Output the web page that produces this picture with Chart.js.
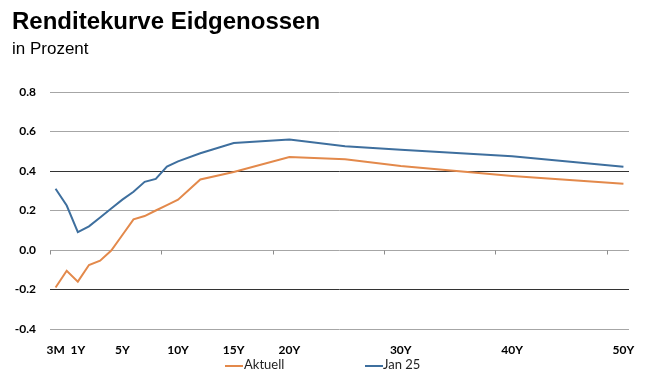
<!DOCTYPE html>
<html>
<head>
<meta charset="utf-8">
<script src="https://cdn.jsdelivr.net/npm/chart.js@4/dist/chart.umd.min.js"></script>
<style>
    html, body { margin: 0; padding: 0; background: #fff; }
    #wrap { position: relative; width: 646px; height: 378px; }
    #title { position: absolute; left: 12px; top: 9px; font: bold 24px "Liberation Sans", Arial, sans-serif; line-height: 1; color: #000; white-space: nowrap; }
    #subtitle { position: absolute; left: 12px; top: 40px; font: 17px "Liberation Sans", Arial, sans-serif; line-height: 1; color: #000; white-space: nowrap; }
    .legLine { position: absolute; height: 2px; width: 18px; top: 365px; }
    .legText { position: absolute; top: 358px; font: 13px Lato, sans-serif; line-height: 1; color: #222; white-space: nowrap; }
</style>
</head>
<body>
<div id="wrap">
    <canvas id="curveChart" width="646" height="378"></canvas>
    <div id="title">Renditekurve Eidgenossen</div>
    <div id="subtitle">in Prozent</div>
    <div class="legLine" style="left:225px;background:#E3894B"></div>
    <div class="legText" style="left:244px">Aktuell</div>
    <div class="legLine" style="left:365px;background:#3E6F9E"></div>
    <div class="legText" style="left:383px">Jan 25</div>
</div>
<script>
    // Laufzeiten: 3M, 6M, dann 1Y..50Y
    const tenors = ['3M', '6M'].concat(Array.from({ length: 50 }, (_, i) => (i + 1) + 'Y'));
    const shownTicks = ['3M', '1Y', '5Y', '10Y', '15Y', '20Y', '30Y', '40Y', '50Y'];

    const aktuellTenors = ['3M', '6M', '1Y', '2Y', '3Y', '4Y', '5Y', '6Y', '7Y', '8Y', '9Y', '10Y', '12Y', '15Y', '20Y', '25Y', '30Y', '40Y', '50Y'];
    const aktuellValues = [-0.19, -0.105, -0.16, -0.076, -0.054, -0.003, 0.076, 0.155, 0.172, 0.2, 0.227, 0.255, 0.357, 0.395, 0.471, 0.46, 0.425, 0.375, 0.335];

    const jan25Tenors = ['3M', '6M', '1Y', '2Y', '3Y', '4Y', '5Y', '6Y', '7Y', '8Y', '9Y', '10Y', '12Y', '15Y', '20Y', '25Y', '30Y', '40Y', '50Y'];
    const jan25Values = [0.31, 0.225, 0.09, 0.12, 0.165, 0.21, 0.255, 0.295, 0.345, 0.36, 0.422, 0.449, 0.49, 0.542, 0.559, 0.525, 0.507, 0.475, 0.421];

    const majorTickEvery = 10;

    function points(keys, values) {
        return keys.map((k, i) => ({ x: k, y: values[i] }));
    }

    const axisTicks = {
        id: 'axisTicks',
        beforeDatasetsDraw(chart) {
            const xs = chart.scales.x;
            const ys = chart.scales.y;
            const ctx = chart.ctx;
            const y0 = Math.round(ys.getPixelForValue(0)) + 0.5;
            ctx.save();
            ctx.strokeStyle = '#8c8c8c';
            ctx.lineWidth = 1;
            ctx.beginPath();
            for (let k = -0.5; k < tenors.length; k += majorTickEvery) {
                const x = Math.round(xs.getPixelForValue(k)) + 0.5;
                ctx.moveTo(x, y0);
                ctx.lineTo(x, y0 + 4);
            }
            ctx.stroke();
            ctx.restore();
        }
    };

    new Chart(document.getElementById('curveChart'), {
        type: 'line',
        data: {
            labels: tenors,
            datasets: [
                { label: 'Aktuell', data: points(aktuellTenors, aktuellValues), borderColor: '#E3894B', borderWidth: 2, pointRadius: 0, tension: 0 },
                { label: 'Jan 25', data: points(jan25Tenors, jan25Values), borderColor: '#3E6F9E', borderWidth: 2, pointRadius: 0, tension: 0 },
            ],
        },
        options: {
            responsive: false,
            animation: false,
            layout: { padding: { left: 12, right: 17, top: 92, bottom: 19 } },
            plugins: { legend: { display: false }, tooltip: { enabled: false }, title: { display: false } },
            scales: {
                x: {
                    type: 'category',
                    offset: true,
                    grid: { display: false },
                    border: { display: false },
                    ticks: {
                        autoSkip: false,
                        maxRotation: 0,
                        padding: 6,
                        color: '#000',
                        font: { family: 'Lato', weight: 'bold', size: 12 },
                        callback(value) {
                            const l = this.getLabelForValue(value);
                            return shownTicks.includes(l) ? l : '';
                        },
                    },
                    afterFit(scale) { scale.height = 30; },
                },
                y: {
                    min: -0.4,
                    max: 0.8,
                    grid: {
                        drawTicks: false,
                        lineWidth: 1,
                        color(ctx) {
                            const v = Math.round(ctx.tick.value * 10);
                            return (v === 4 || v === -2) ? '#333333' : '#a6a6a6';
                        },
                    },
                    border: { display: false },
                    ticks: {
                        stepSize: 0.2,
                        padding: 14,
                        color: '#000',
                        font: { family: 'Lato', weight: 'bold', size: 12 },
                        callback: (v) => v.toFixed(1),
                    },
                    afterFit(scale) { scale.width = 38; },
                },
            },
        },
        plugins: [axisTicks],
    });
</script>
</body>
</html>
